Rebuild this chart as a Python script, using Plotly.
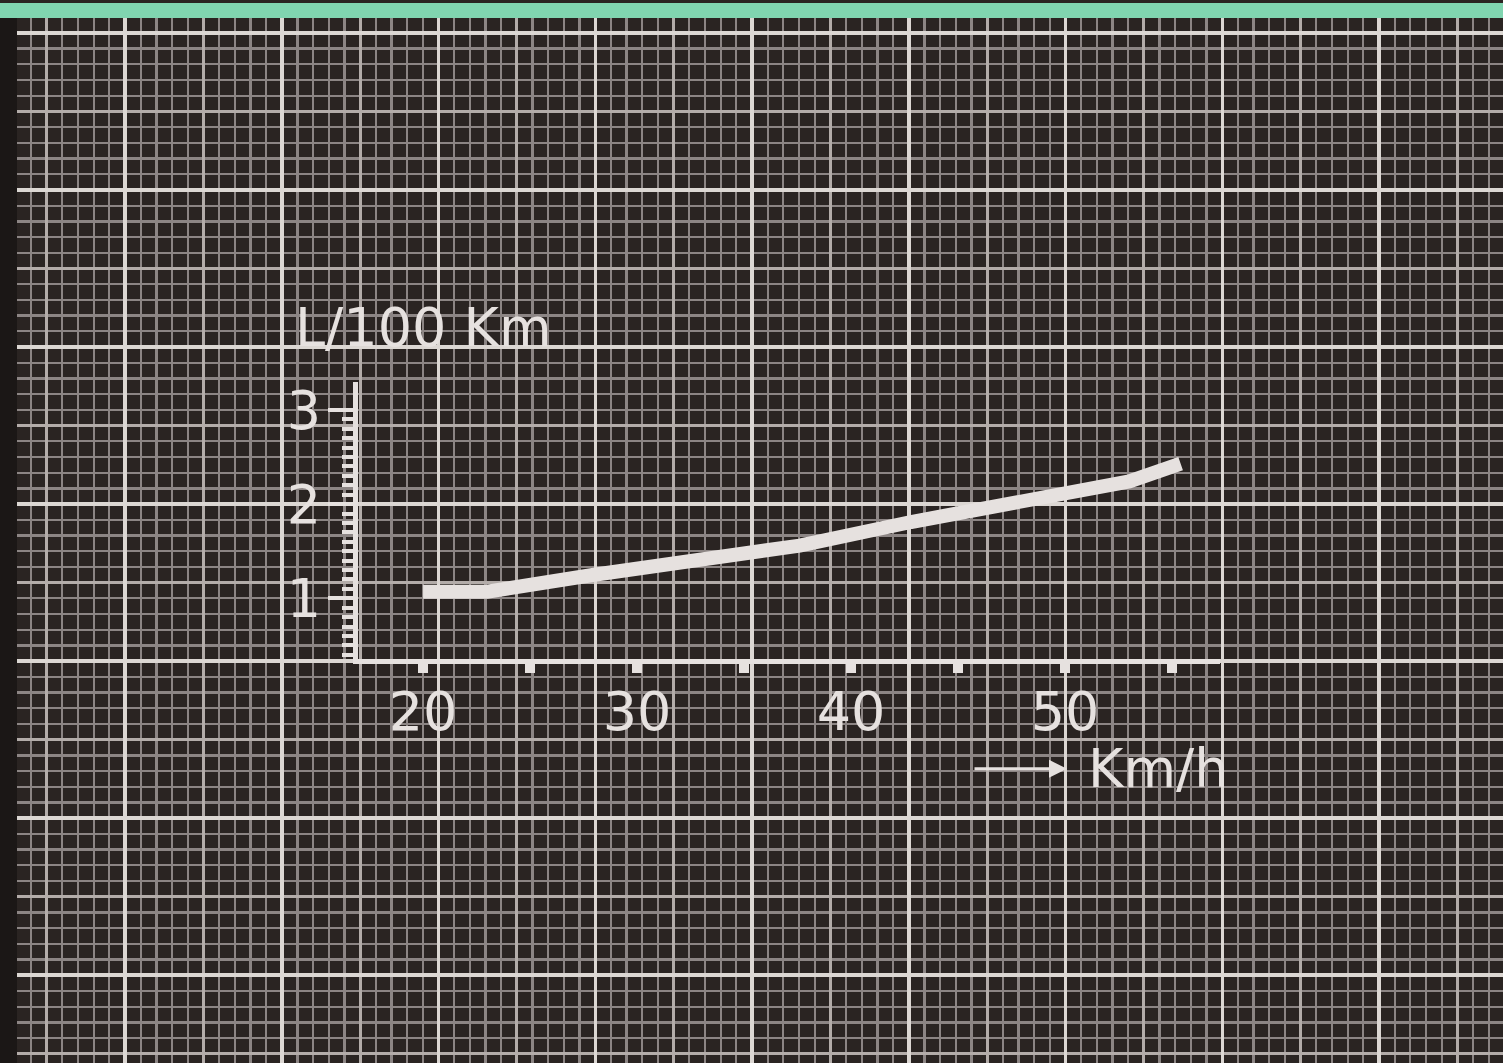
import plotly.graph_objects as go

# ---- data ----
speed_kmh = [20, 23, 28, 32, 34, 37.6, 42.8, 46.4, 50, 53, 55.4]
consumption_l100 = [1.07, 1.07, 1.25, 1.37, 1.46, 1.56, 1.81, 1.95, 2.10, 2.24, 2.43]

x_tick_vals = [20, 25, 30, 35, 40, 45, 50, 55]
x_tick_text = ["20", "", "30", "", "40", "", "50", ""]
y_tick_vals = [1, 2, 3]
y_tick_text = ["1", "2", "3"]
y_minor_ticks = [round(0.4 + 0.1 * i, 1) for i in range(27)]

y_title = "L/100 Km"
x_title = "Km/h"

# ---- styling ----
W, H = 1503, 1063
BG = "#2a2422"
STRIP = "#1b1716"
GREEN = "#80d5b0"
INK = "#e6e1df"
MINOR = "#8c8584"
MEDIUM = "#b3aca9"
MAJOR = "#dcd7d3"
FONT = "DejaVu Sans"

fig = go.Figure()

# dummy traces to create grid subplots (graph paper)
fig.add_trace(go.Scatter(x=[], y=[], xaxis="x", yaxis="y", showlegend=False, hoverinfo="skip"))
fig.add_trace(go.Scatter(x=[], y=[], xaxis="x3", yaxis="y3", showlegend=False, hoverinfo="skip"))

# the chart line
fig.add_trace(go.Scatter(
    x=speed_kmh, y=consumption_l100, xaxis="x2", yaxis="y2",
    mode="lines", line=dict(color=INK, width=14),
    showlegend=False, hoverinfo="skip"))

gx0 = 17
gy0 = 15
grid_xdom = [gx0 / W, 1]
grid_ydom = [0, 1 - gy0 / H]
XSTEP = 156.75
YSTEP = 157.5

common = dict(showticklabels=False, zeroline=False, ticks="", showline=False, fixedrange=True)

chart_x = [358 / W, 1220 / W]
chart_y = [(H - 658) / H, (H - 380) / H]

fig.update_layout(
    width=W, height=H,
    margin=dict(l=0, r=0, t=0, b=0),
    paper_bgcolor=BG,
    plot_bgcolor="rgba(0,0,0,0)",
    font=dict(family=FONT, color=INK),
    xaxis=dict(domain=grid_xdom, range=[gx0, W], anchor="y",
               showgrid=True, gridcolor=MEDIUM, gridwidth=3,
               tick0=125, dtick=XSTEP / 2,
               minor=dict(showgrid=True, gridcolor=MINOR, gridwidth=2.3, tick0=125, dtick=XSTEP / 10),
               **common),
    yaxis=dict(domain=grid_ydom, range=[H, gy0], anchor="x",
               showgrid=True, gridcolor=MEDIUM, gridwidth=3,
               tick0=30, dtick=YSTEP / 2,
               minor=dict(showgrid=True, gridcolor=MINOR, gridwidth=2.3, tick0=30, dtick=YSTEP / 10),
               **common),
    xaxis3=dict(overlaying="x", range=[gx0, W], anchor="y3",
                showgrid=True, gridcolor=MAJOR, gridwidth=3.5, tick0=125, dtick=XSTEP, **common),
    yaxis3=dict(overlaying="y", range=[H, gy0], anchor="x3",
                showgrid=True, gridcolor=MAJOR, gridwidth=3.5, tick0=30, dtick=YSTEP, **common),
    xaxis2=dict(domain=chart_x, anchor="y2", range=[16.96, 57.24],
                showgrid=False, zeroline=False, fixedrange=True,
                showline=True, linecolor=INK, linewidth=5,
                tickmode="array", tickvals=x_tick_vals, ticktext=x_tick_text,
                ticks="outside", ticklen=9, tickwidth=10, tickcolor=INK,
                ticklabelstandoff=-8,
                tickfont=dict(family=FONT, size=54, color=INK)),
    yaxis2=dict(domain=chart_y, anchor="x2", range=[0.355, 3.296],
                showgrid=False, zeroline=False, fixedrange=True,
                showline=True, linecolor=INK, linewidth=5,
                tickmode="array", tickvals=y_tick_vals, ticktext=y_tick_text,
                ticks="outside", ticklen=25, tickwidth=4, tickcolor=INK,
                ticklabelstandoff=-4,
                minor=dict(tickmode="array", tickvals=y_minor_ticks, ticks="outside",
                           ticklen=11, tickwidth=4, tickcolor=INK, showgrid=False),
                tickfont=dict(family=FONT, size=54, color=INK)),
    shapes=[
        dict(type="rect", xref="paper", yref="paper", x0=0, x1=1, y0=1 - gy0 / H, y1=1,
             fillcolor=GREEN, line=dict(width=0), layer="below"),
        dict(type="rect", xref="paper", yref="paper", x0=0, x1=gx0 / W, y0=0, y1=1 - gy0 / H,
             fillcolor=STRIP, line=dict(width=0), layer="below"),
    ],
    annotations=[
        dict(text=y_title, xref="paper", yref="paper", x=293 / W, y=(H - 325) / H,
             xanchor="left", yanchor="middle", showarrow=False,
             font=dict(family=FONT, size=54, color=INK)),
        dict(text=x_title, xref="paper", yref="paper", x=1086 / W, y=(H - 768) / H,
             xanchor="left", yanchor="middle", showarrow=False,
             font=dict(family=FONT, size=54, color=INK)),
        dict(text="", xref="paper", yref="paper", x=1067 / W, y=(H - 768) / H,
             showarrow=True, ax=-94, ay=0, arrowhead=2, arrowsize=1.2, arrowwidth=3,
             arrowcolor=INK, standoff=0, startstandoff=0),
    ],
)

fig.write_html("out.html",
               config={"displayModeBar": False, "staticPlot": True},
               post_script="document.body.style.margin='0';document.body.style.overflow='hidden';")
